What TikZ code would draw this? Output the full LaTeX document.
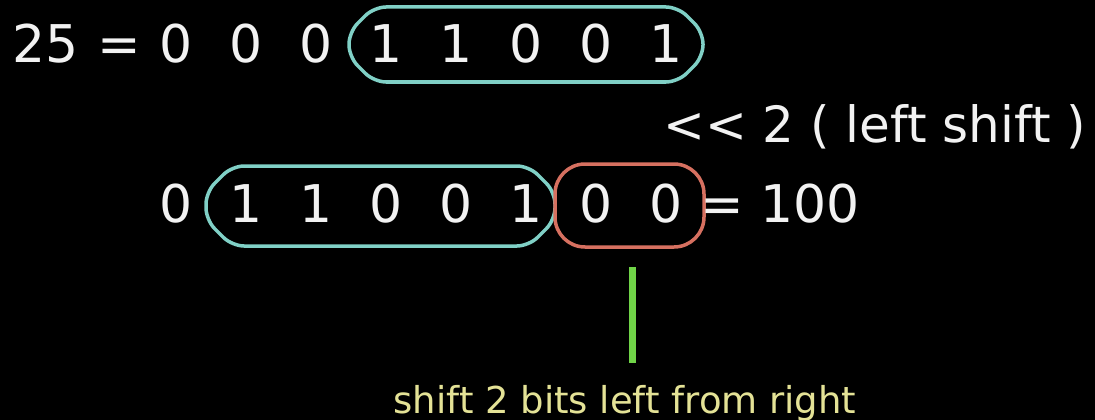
\documentclass[tikz,border=0pt]{standalone}
\usepackage{fontspec}
\setmainfont{DejaVu Sans}
\definecolor{txt}{RGB}{242,242,242}
\definecolor{cyanbox}{RGB}{128,208,198}
\definecolor{redbox}{RGB}{214,112,96}
\definecolor{ylw}{RGB}{228,226,150}
\definecolor{grn}{RGB}{112,212,72}
\tikzset{
  big/.style={text=txt, font=\fontsize{52}{60}\selectfont, inner sep=0pt, anchor=base},
  mid/.style={text=txt, font=\fontsize{50}{58}\selectfont, inner sep=0pt, anchor=base west},
  note/.style={text=ylw, font=\fontsize{37}{44}\selectfont, inner sep=0pt, anchor=base},
  cbox/.style={draw=cyanbox, line width=3.5pt, rounded corners=12pt},
  rbox/.style={draw=redbox, line width=3.5pt, rounded corners=30pt},
  gline/.style={draw=grn, line width=7pt}
}
\begin{document}
\begin{tikzpicture}[x=1pt,y=-1pt]
\fill[black] (0,0) rectangle (1095,420);
\useasboundingbox (0,0) rectangle (1095,420);
% row 1
\node[big] (n25) at (46,63) {25};
\node[big] (eq1) at (119,63) {=};
\foreach \d [count=\i from 0] in {0,0,0,1,1,0,0,1}{
  \node[big] (a\i) at ({176+70*\i},63) {\d};
}
\draw[cbox] (374,7) -- (678,7) -- (703,32) -- (703,57) -- (678,82) -- (374,82) -- (349,57) -- (349,32) -- cycle;
% shift label
\node[mid] (op) at (663,142) {<{}< 2 ( left shift )};
% row 2
\foreach \d [count=\i from 0] in {0,1,1,0,0,1,0,0}{
  \node[big] (b\i) at ({176+70*\i},222) {\d};
}
\draw[cbox] (232,166) -- (529,166) -- (555,192) -- (555,220) -- (529,246) -- (232,246) -- (206,220) -- (206,192) -- cycle;
\draw[rbox] (555,164) rectangle (704,247);
\node[big] (eq2) at (722,222) {=};
\node[big] (r100) at (810,222) {100};
% pointer and note
\coordinate (gtop) at (632,267);
\coordinate (gbot) at (632,363);
\draw[gline] (gtop) -- (gbot);
\node[note] (lbl) at (625,413) {shift 2 bits left from right};
\end{tikzpicture}
\end{document}
